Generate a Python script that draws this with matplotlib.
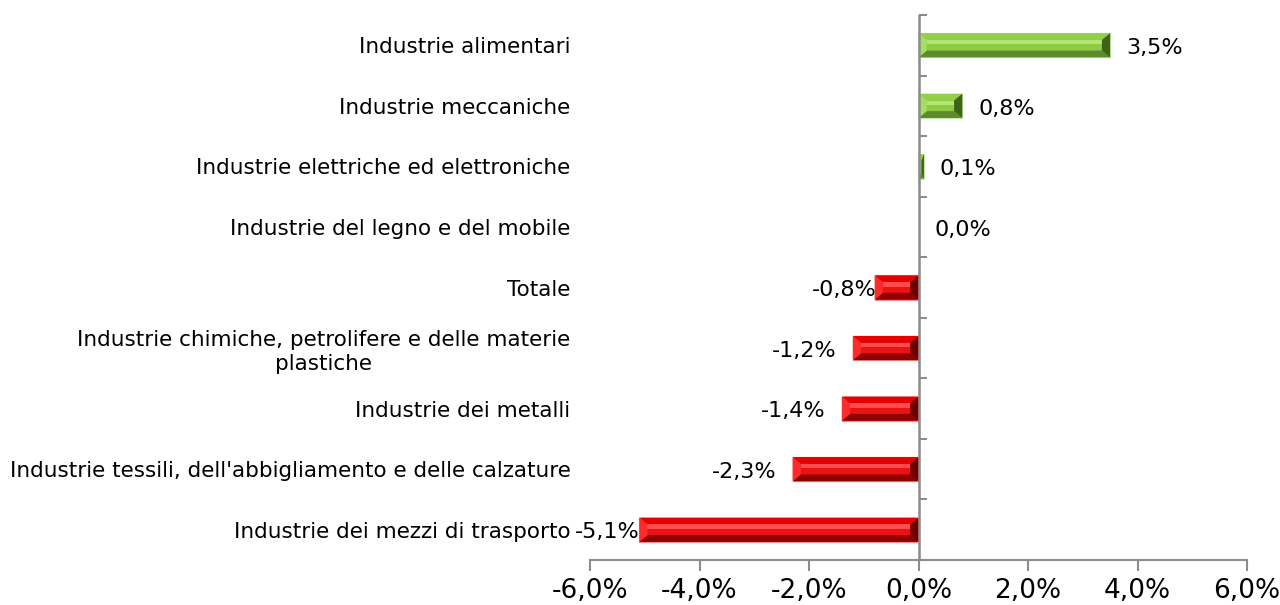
import matplotlib
matplotlib.use("Agg")
import matplotlib.pyplot as plt
from matplotlib.patches import Polygon
import numpy as np

categories = [
    "Industrie alimentari",
    "Industrie meccaniche",
    "Industrie elettriche ed elettroniche",
    "Industrie del legno e del mobile",
    "Totale",
    "Industrie chimiche, petrolifere e delle materie\nplastiche",
    "Industrie dei metalli",
    "Industrie tessili, dell'abbigliamento e delle calzature",
    "Industrie dei mezzi di trasporto",
]
values = [3.5, 0.8, 0.1, 0.0, -0.8, -1.2, -1.4, -2.3, -5.1]
value_labels = ["3,5%", "0,8%", "0,1%", "0,0%", "-0,8%", "-1,2%", "-1,4%", "-2,3%", "-5,1%"]
xticks = [-6, -4, -2, 0, 2, 4, 6]
xtick_labels = ["-6,0%", "-4,0%", "-2,0%", "0,0%", "2,0%", "4,0%", "6,0%"]
# gap between bar end and label, in points (Excel squeezed a couple of them)
label_gap = [11.5, 11.5, 11.5, 11.5, -1.5, 11.5, 11.5, 11.5, 0]

green = {"edge": "#c8e9a4", "mid": "#8fca45", "top": "#93cf4c", "band": "#b4e672",
         "bot": "#5b8b2a", "right": "#3c6519", "left": "#a6de60"}
red = {"edge": "#f29090", "mid": "#ea1212", "top": "#e40000", "band": "#ff4d4d",
       "bot": "#8f0000", "right": "#6a0000", "left": "#ff2a2a"}
axis_grey = "#8c8c8c"

fig = plt.figure(figsize=(12.8, 6.05), dpi=100)
ax = fig.add_axes([590 / 1280, 1 - 560 / 605, 657 / 1280, 545 / 605])

y = np.arange(len(categories))
h = 0.40


def quad(ax, pts, color, z=3):
    ax.add_patch(Polygon(pts, closed=True, facecolor=color, edgecolor="none", zorder=z))


def bevel_bar(ax, v, c, pal):
    if v == 0:
        return
    x0, x1 = min(0, v), max(0, v)
    top, bot = c - h / 2, c + h / 2  # y axis is inverted
    dx = min(0.15, (x1 - x0) / 2)
    dy = h * 0.28
    ax.add_patch(Polygon([(x0, top), (x1, top), (x1, bot), (x0, bot)], closed=True,
                         facecolor=pal["mid"], edgecolor=pal["edge"], linewidth=0.9, zorder=2))
    quad(ax, [(x0, top), (x1, top), (x1 - dx, top + dy), (x0 + dx, top + dy)], pal["top"])
    quad(ax, [(x0 + dx, top + dy), (x1 - dx, top + dy), (x1 - dx, top + dy + h * 0.18),
              (x0 + dx, top + dy + h * 0.18)], pal["band"])
    quad(ax, [(x0, bot), (x1, bot), (x1 - dx, bot - dy), (x0 + dx, bot - dy)], pal["bot"])
    quad(ax, [(x1, top), (x1, bot), (x1 - dx, bot - dy), (x1 - dx, top + dy)], pal["right"])
    quad(ax, [(x0, top), (x0, bot), (x0 + dx, bot - dy), (x0 + dx, top + dy)], pal["left"])


for i, v in enumerate(values):
    pal = green if v >= 0 else red
    bevel_bar(ax, v, y[i], pal)
    if v >= 0:
        ax.annotate(value_labels[i], (v, y[i]), xytext=(label_gap[i], -2), textcoords="offset points",
                    ha="left", va="center", fontsize=16, color="black", zorder=6)
    else:
        ax.annotate(value_labels[i], (v, y[i]), xytext=(-label_gap[i], -2), textcoords="offset points",
                    ha="right", va="center", fontsize=16, color="black", zorder=6)

ax.set_xlim(-6, 6)
ax.set_ylim(len(categories) - 0.5, -0.5)
ax.set_xticks(xticks)
ax.set_xticklabels(xtick_labels, fontsize=19)
ax.set_yticks(y)
ax.set_yticklabels(categories, fontsize=15.5, ha="right", multialignment="center", linespacing=1.25)
ax.tick_params(axis="y", length=0, pad=14)
ax.tick_params(axis="x", direction="out", length=8, width=1.5, color=axis_grey, pad=5)

for s in ["top", "right", "left"]:
    ax.spines[s].set_visible(False)
ax.spines["bottom"].set_color(axis_grey)
ax.spines["bottom"].set_linewidth(1.5)

# vertical axis sitting at zero with ticks between categories
ax.axvline(0, color=axis_grey, linewidth=1.8, zorder=5)
sec = ax.secondary_yaxis(0.5)
sec.set_yticks(np.arange(len(categories) + 1) - 0.5)
sec.set_yticklabels([])
sec.tick_params(axis="y", direction="out", length=6, width=1.5, color=axis_grey)
sec.spines["left"].set_visible(False)

fig.savefig("out.png", dpi=100)
